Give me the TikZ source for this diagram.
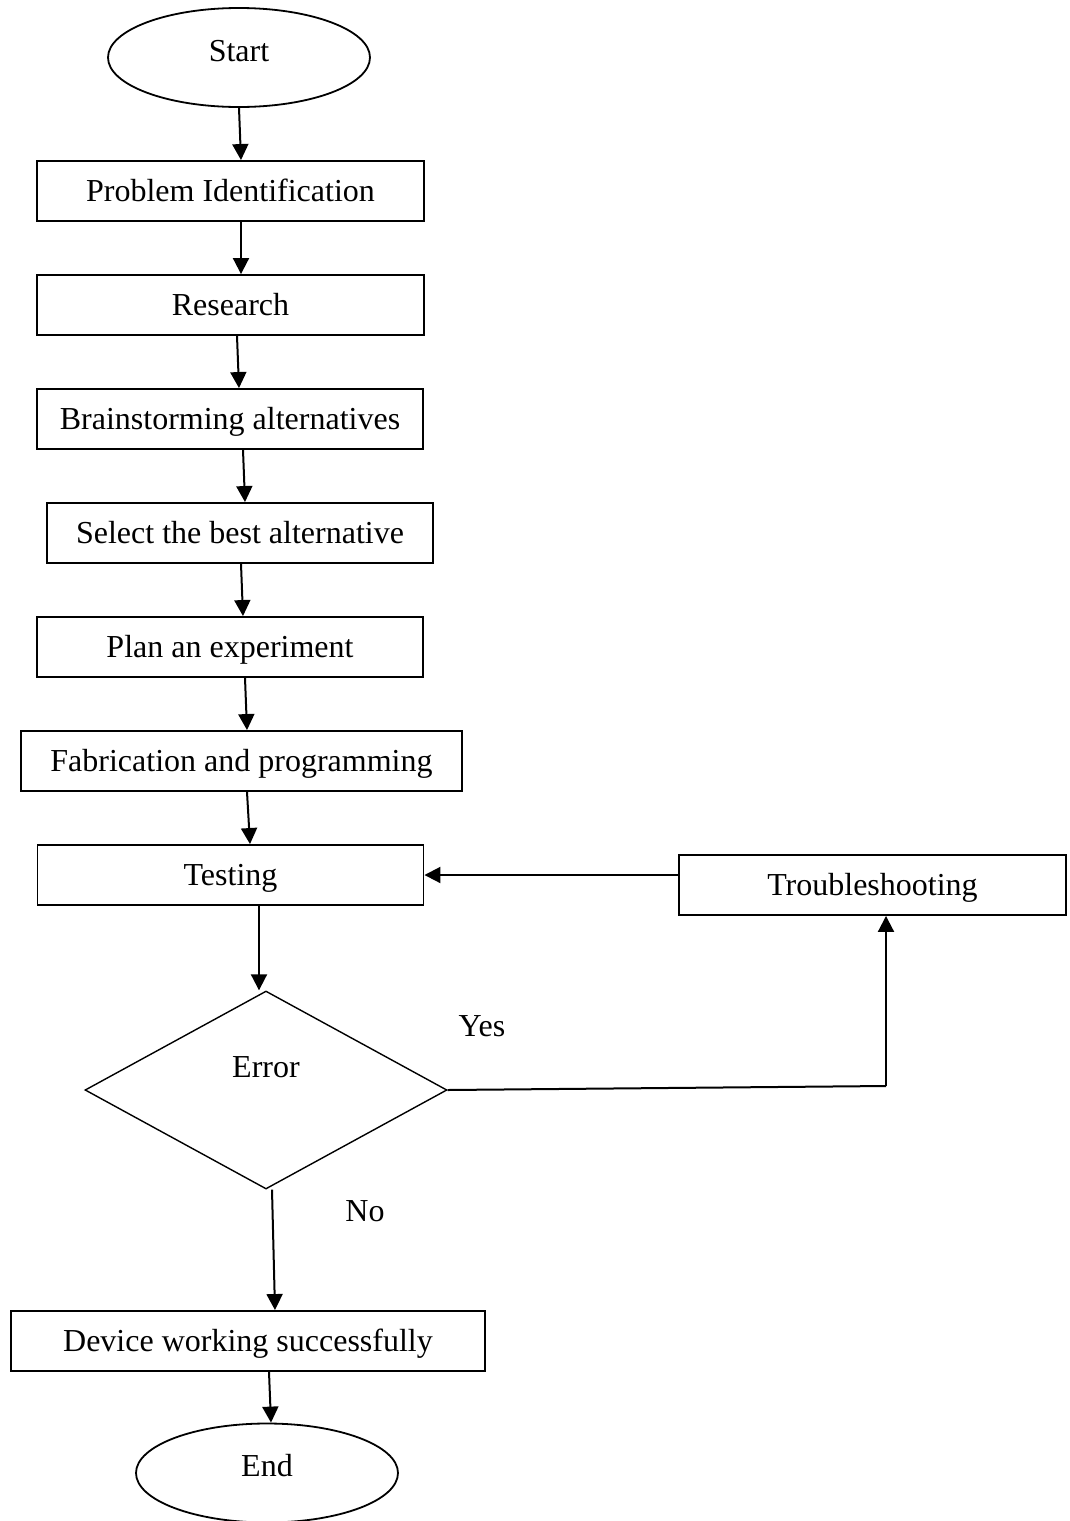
\documentclass[tikz,border=0pt]{standalone}
\usepackage{fontspec}
\setmainfont{Liberation Serif}
\usetikzlibrary{shapes.geometric,arrows.meta}

\begin{document}
\begin{tikzpicture}[x=1pt,y=-1pt,
  every node/.style={font=\fontsize{32}{38}\selectfont, text height=21pt, text depth=0pt},
  stepbox/.style={draw, line width=1.9pt, inner sep=0pt, minimum height=60pt},
  terminal/.style={draw, ellipse, line width=1.8pt, inner sep=0pt,
    minimum width=262pt, minimum height=99pt, text depth=14pt},
  decision/.style={draw, diamond, line width=1.4pt, inner sep=0pt,
    minimum width=362pt, minimum height=198pt, text depth=46pt},
  flow/.style={line width=2pt, -{Triangle[length=16pt,width=16pt]}},
  plain/.style={line width=2pt}
]
\useasboundingbox (0,0) rectangle (1069,1521);

% process steps
\node[terminal] (start) at (239,57.5) {Start};
\node[stepbox, minimum width=387pt] (pi)    at (230.5,191) {Problem Identification};
\node[stepbox, minimum width=387pt] (res)   at (230.5,305) {Research};
\node[stepbox, minimum width=386pt] (brain) at (230,419) {Brainstorming alternatives};
\node[stepbox, minimum width=386pt] (sel)   at (240,533) {Select the best alternative};
\node[stepbox, minimum width=386pt] (plan)  at (230,647) {Plan an experiment};
\node[stepbox, minimum width=441pt] (fab)   at (241.5,761) {Fabrication and programming};
\node[stepbox, minimum width=386pt] (test)  at (230.5,875) {Testing};
\node[stepbox, minimum width=387pt] (trbl)  at (872.5,885) {Troubleshooting};
\node[decision] (err) at (266,1090) {Error};
\node[stepbox, minimum width=474pt] (dev)   at (248,1341) {Device working successfully};
\node[terminal] (end) at (267,1473) {End};

% branch labels
\node (yes) at (482,1026) {Yes};
\node (no)  at (365,1211) {No};

% main sequence
\draw[flow] (start.south) -- ([xshift=10.5pt]pi.north);
\draw[flow] ([xshift=10.5pt]pi.south) -- ([xshift=10.5pt]res.north);
\draw[flow] ([xshift=6.5pt]res.south) -- ([xshift=9pt]brain.north);
\draw[flow] ([xshift=13pt]brain.south) -- ([xshift=5pt]sel.north);
\draw[flow] ([xshift=1pt]sel.south) -- ([xshift=13pt]plan.north);
\draw[flow] ([xshift=15pt]plan.south) -- ([xshift=5.5pt]fab.north);
\draw[flow] ([xshift=5.5pt]fab.south) -- ([xshift=19.5pt]test.north);
\draw[flow] ([xshift=28.5pt]test.south) -- ([xshift=28.5pt]test.south |- err.north);

% error loop
\coordinate (yesturn) at (886,1086);
\draw[plain] (err.east) -- (yesturn);
\draw[flow] (yesturn) -- (yesturn |- trbl.south);
\draw[flow] (trbl.west |- test.east) -- (test.east);

% success path
\draw[flow] ([xshift=6pt]err.south) -- ([xshift=27pt]dev.north);
\draw[flow] ([xshift=21pt]dev.south) -- ([xshift=4pt]end.north);
\end{tikzpicture}
\end{document}
